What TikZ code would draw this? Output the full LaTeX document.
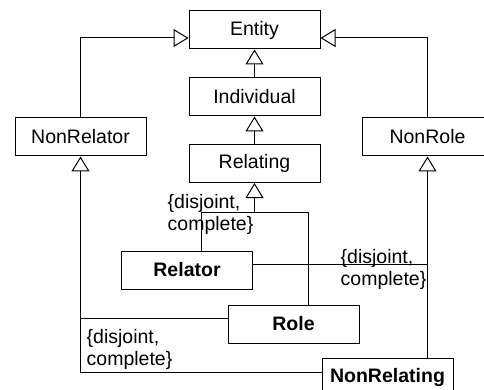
\documentclass[tikz,border=0pt]{standalone}
\usepackage{fontspec}
\setmainfont{Liberation Sans}
\usetikzlibrary{arrows.meta}
\tikzset{
  cls/.style={draw, line width=1pt, minimum width=131pt, minimum height=38pt, inner sep=0pt, font=\fontsize{19.5}{22.4}\selectfont},
  bcls/.style={cls, font=\fontsize{19.5}{22.4}\selectfont\bfseries},
  gen/.style={-{Triangle[open, length=15pt, width=18pt]}},
  conn/.style={line width=1pt},
  gset/.style={anchor=north west, inner sep=0pt, align=left, font=\fontsize{19.5}{22}\selectfont}
}
\begin{document}
\begin{tikzpicture}[x=1pt, y=-1pt]
\useasboundingbox (0,0) rectangle (484,390);
\node[cls] (Entity) at (254.5,30) {Entity};
\node[cls] (Individual) at (254.5,97) {Individual};
\node[cls] (Relating) at (254.5,163.5) {Relating};
\node[cls] (NonRelator) at (80.5,137) {NonRelator};
\node[cls] (NonRole) at (427.5,137) {NonRole};
\node[bcls] (Relator) at (187,270) {Relator};
\node[bcls] (Role) at (293.5,324) {Role};
\node[bcls] (NonRelating) at (387.5,377) {NonRelating};

\coordinate (g1) at (254.5,212);
\coordinate (g2) at (427.5,264);
\coordinate (g3) at (80.5,318);

\draw[conn, gen] (NonRelator.north) |- ([yshift=-8pt]Entity.west);
\draw[conn, gen] (NonRole.north) |- ([yshift=-8pt]Entity.east);
\draw[conn, gen] (Individual.north) -- (Entity.south);
\draw[conn, gen] (Relating.north) -- (Individual.south);

\draw[conn] ([xshift=14pt]Relator.north) |- (g1);
\draw[conn] ([xshift=14.5pt]Role.north) |- (g1);
\draw[conn, gen] (g1) -- (Relating.south);

\draw[conn] ([yshift=6pt]Relator.east) -- (g2);
\draw[conn] ([xshift=40pt]NonRelating.north) -- (g2);
\draw[conn, gen] (g2) -- (NonRole.south);

\draw[conn] ([yshift=6pt]Role.west) -- (g3);
\draw[conn] ([yshift=5pt]NonRelating.west) -| (g3);
\draw[conn, gen] (g3) -- (NonRelator.south);

\node[gset] (t1) at (167.5,194.3) {\{disjoint,\\complete\}};
\node[gset] (t2) at (340.5,249) {\{disjoint,\\complete\}};
\node[gset] (t3) at (86.5,328.8) {\{disjoint,\\complete\}};
\end{tikzpicture}
\end{document}
